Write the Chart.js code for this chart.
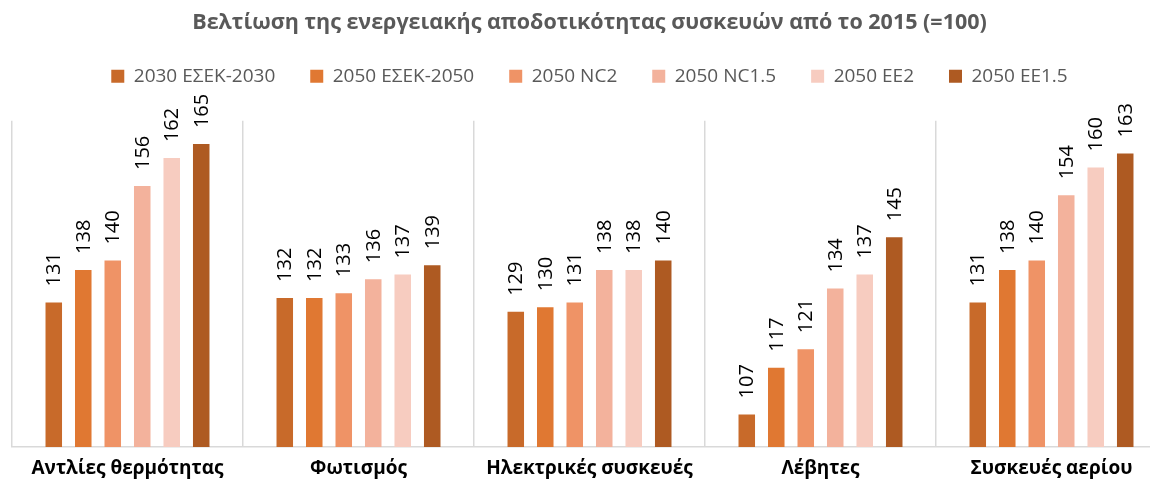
<!DOCTYPE html>
<html>
<head>
<meta charset="utf-8">
<script src="https://cdn.jsdelivr.net/npm/chart.js@4"></script>
<style>
  html, body { margin: 0; padding: 0; background: #fff; overflow: hidden; }
  /* a little wider than the window: the last category is cut off at the right, as in the original */
  #wrap { width: 1169px; height: 488px; }
</style>
</head>
<body>
<div id="wrap"><canvas id="chart"></canvas></div>
<script>
// Categories and series values (index, 2015 = 100)
var categories = ['Αντλίες θερμότητας', 'Φωτισμός', 'Ηλεκτρικές συσκευές', 'Λέβητες', 'Συσκευές αερίου'];
var seriesNames = ['2030 ΕΣΕΚ-2030', '2050 ΕΣΕΚ-2050', '2050 NC2', '2050 NC1.5', '2050 EE2', '2050 EE1.5'];
var esek2030 = [131, 132, 129, 107, 131];
var esek2050 = [138, 132, 130, 117, 138];
var nc2 = [140, 133, 131, 121, 140];
var nc15 = [156, 136, 138, 134, 154];
var ee2 = [162, 137, 138, 137, 160];
var ee15 = [165, 139, 140, 145, 163];
var colors = ['#C86A2A', '#E07832', '#EF9366', '#F3B29C', '#F7CCC0', '#AE5A22'];

var allValues = [esek2030, esek2050, nc2, nc15, ee2, ee15];

// Draw rotated value labels above each bar
var valueLabels = {
    id: 'valueLabels',
    afterDatasetsDraw: function(chart) {
        var ctx = chart.ctx;
        ctx.save();
        ctx.font = '20px "Open Sans"';
        ctx.fillStyle = '#000';
        ctx.textAlign = 'left';
        ctx.textBaseline = 'middle';
        chart.data.datasets.forEach(function(ds, i) {
            var meta = chart.getDatasetMeta(i);
            meta.data.forEach(function(bar, j) {
                ctx.save();
                ctx.translate(bar.x + 1, bar.y - 16);
                ctx.rotate(-Math.PI / 2);
                ctx.fillText(ds.data[j], 0, 0);
                ctx.restore();
            });
        });
        ctx.restore();
    }
};

var ctx = document.getElementById('chart').getContext('2d');
var chart = new Chart(ctx, {
    type: 'bar',
    data: {
        labels: categories,
        datasets: allValues.map(function(vals, i) {
            return {
                label: seriesNames[i],
                data: vals,
                backgroundColor: colors[i],
                borderWidth: 0,
                categoryPercentage: 0.766,
                barPercentage: 0.56
            };
        })
    },
    options: {
        responsive: true,
        maintainAspectRatio: false,
        animation: false,
        layout: { padding: { left: 12, right: 2, top: 10, bottom: 0 } },
        plugins: {
            title: {
                display: true,
                text: 'Βελτίωση της ενεργειακής αποδοτικότητας συσκευών από το 2015 (=100)',
                color: '#595959',
                font: { family: 'Open Sans', size: 21.5, weight: 'bold' },
                padding: { top: 0, bottom: -4 }
            },
            legend: {
                position: 'top',
                labels: {
                    color: '#595959',
                    font: { family: 'Open Sans', size: 19 },
                    boxWidth: 13,
                    boxHeight: 13,
                    padding: 35
                }
            },
            tooltip: { enabled: false }
        },
        scales: {
            x: {
                grid: { offset: true, color: '#D9D9D9', lineWidth: 1.5, drawTicks: false },
                border: { color: '#D9D9D9', width: 1.5 },
                ticks: {
                    color: '#000',
                    font: { family: 'Open Sans', size: 19, weight: 'bold' },
                    padding: 10
                },
                afterFit: function(scale) { scale.height = 41; }
            },
            // empty top axis, only used as spacing between legend and bars
            xTop: {
                type: 'category',
                position: 'top',
                grid: { display: false },
                border: { display: false },
                ticks: { display: false },
                afterFit: function(scale) { scale.height = 25; }
            },
            y: {
                display: false,
                min: 100,
                max: 170
            }
        }
    },
    plugins: [valueLabels]
});
</script>
</body>
</html>
